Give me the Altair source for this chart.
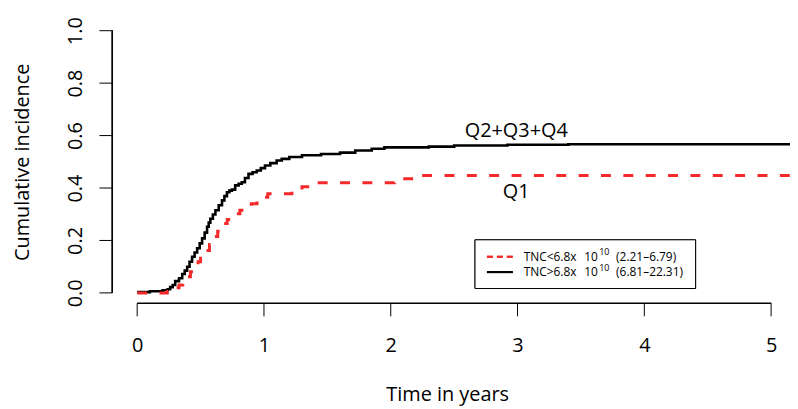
import altair as alt
import pandas as pd

# ---- data ----
# Q2+Q3+Q4 : TNC > 6.8x10^10 (black, solid)
time_hi = [0.0, 0.10, 0.20, 0.24, 0.26, 0.28, 0.30, 0.33, 0.355, 0.375,
           0.394, 0.413, 0.433, 0.453, 0.473, 0.493, 0.512, 0.532, 0.551, 0.564,
           0.577, 0.597, 0.617, 0.643, 0.669, 0.688, 0.708, 0.727, 0.747, 0.773,
           0.80, 0.825, 0.85, 0.878, 0.91, 0.943, 0.975, 1.008, 1.05, 1.10,
           1.14, 1.20, 1.30, 1.45, 1.60, 1.72, 1.85, 1.95, 2.30, 2.50,
           2.92, 3.40, 5.30]
cinc_hi = [0.003, 0.006, 0.010, 0.014, 0.022, 0.030, 0.045, 0.056, 0.072, 0.085,
           0.100, 0.119, 0.138, 0.154, 0.170, 0.189, 0.208, 0.230, 0.252, 0.268,
           0.283, 0.299, 0.315, 0.334, 0.353, 0.369, 0.384, 0.390, 0.394, 0.410,
           0.416, 0.422, 0.438, 0.454, 0.460, 0.467, 0.476, 0.486, 0.495, 0.505,
           0.511, 0.518, 0.525, 0.530, 0.535, 0.543, 0.550, 0.555, 0.558, 0.562,
           0.565, 0.567, 0.567]

# Q1 : TNC < 6.8x10^10 (red, dashed)
time_lo = [0.0, 0.238, 0.27, 0.30, 0.33, 0.36, 0.39, 0.42, 0.44, 0.46,
           0.48, 0.50, 0.52, 0.545, 0.57, 0.59, 0.61, 0.635, 0.66, 0.68,
           0.71, 0.74, 0.77, 0.81, 0.855, 0.90, 0.945, 0.99, 1.03, 1.22,
           1.30, 1.37, 2.03, 2.18, 2.24, 5.30]
cinc_lo = [0.000, 0.005, 0.012, 0.020, 0.030, 0.045, 0.062, 0.081, 0.094, 0.107,
           0.119, 0.132, 0.145, 0.162, 0.185, 0.200, 0.215, 0.235, 0.252, 0.265,
           0.280, 0.292, 0.302, 0.315, 0.328, 0.340, 0.352, 0.365, 0.378, 0.394,
           0.405, 0.420, 0.435, 0.441, 0.448, 0.448]

x_ticks = [0, 1, 2, 3, 4, 5]
y_ticks = [0.0, 0.2, 0.4, 0.6, 0.8, 1.0]

curve_labels = ["Q2+Q3+Q4", "Q1"]
curve_label_t = [2.99, 2.99]
curve_label_v = [0.619, 0.383]

legend_main = ["TNC<6.8x", "TNC>6.8x"]
legend_base = ["10", "10"]
legend_exp = ["10", "10"]
legend_range = ["(2.21\u20136.79)", "(6.81\u201322.31)"]

RED = "#f42a2a"
FONT = "Open Sans"
W, H = 682, 285
TICK = 13
XDOM = [-0.196, 5.149]
YDOM = [-0.04, 1.04]

df_hi = pd.DataFrame({"t": time_hi, "ci": cinc_hi})
df_lo = pd.DataFrame({"t": time_lo, "ci": cinc_lo})
df_lab = pd.DataFrame({"t": curve_label_t, "ci": curve_label_v, "label": curve_labels})
df_xt = pd.DataFrame({"t": x_ticks})
df_yt = pd.DataFrame({"ci": y_ticks})

xscale = alt.Scale(domain=XDOM, nice=False, zero=False)
yscale = alt.Scale(domain=YDOM, nice=False, zero=False)

xaxis = alt.Axis(values=x_ticks, format="d", domain=False, grid=False, ticks=False,
                 labelFontSize=20, labelFont=FONT, labelColor="black",
                 labelPadding=TICK + 19, labelFlush=False,
                 title="Time in years", titleFont=FONT, titleFontSize=20,
                 titleFontWeight="normal", titleColor="black",
                 titleX=337, titleY=98, titleAlign="center",
                 titleBaseline="alphabetic")
yaxis = alt.Axis(values=y_ticks, format=".1f", domain=False, grid=False, ticks=False,
                 labelFontSize=20, labelFont=FONT, labelColor="black",
                 labelAngle=270, labelAlign="center", labelBaseline="alphabetic",
                 labelPadding=TICK + 18, labelFlush=False,
                 title="Cumulative incidence", titleFont=FONT, titleFontSize=20,
                 titleFontWeight="normal", titleColor="black",
                 titleX=-84, titleBaseline="alphabetic")

line_hi = alt.Chart(df_hi).mark_line(
    interpolate="step-after", color="black", strokeWidth=2.6, clip=True
).encode(x=alt.X("t:Q", scale=xscale, axis=xaxis),
         y=alt.Y("ci:Q", scale=yscale, axis=yaxis))

line_lo = alt.Chart(df_lo).mark_line(
    interpolate="step-after", color=RED, strokeWidth=3, strokeDash=[10, 12.5], clip=True
).encode(x=alt.X("t:Q", scale=xscale), y=alt.Y("ci:Q", scale=yscale))

# R-style axis lines spanning only the tick range, with outward ticks
xline = alt.Chart(df_xt).mark_rule(color="black", strokeWidth=1).encode(
    x=alt.datum(x_ticks[0]), x2=alt.datum(x_ticks[-1]), y=alt.value(H))
yline = alt.Chart(df_yt).mark_rule(color="black", strokeWidth=1).encode(
    y=alt.datum(y_ticks[0]), y2=alt.datum(y_ticks[-1]), x=alt.value(0))
xticks_m = alt.Chart(df_xt).mark_rule(color="black", strokeWidth=1).encode(
    x=alt.X("t:Q", scale=xscale), y=alt.value(H), y2=alt.value(H + TICK))
yticks_m = alt.Chart(df_yt).mark_rule(color="black", strokeWidth=1).encode(
    y=alt.Y("ci:Q", scale=yscale), x=alt.value(-TICK), x2=alt.value(0))

labels = alt.Chart(df_lab).mark_text(
    font=FONT, fontSize=20, color="black", align="center", baseline="middle"
).encode(x=alt.X("t:Q", scale=xscale), y=alt.Y("ci:Q", scale=yscale), text="label:N")

# legend box
legend_df = pd.DataFrame({"main": legend_main, "base": legend_base,
                          "exp": legend_exp, "rng": legend_range, "row": [0, 1]})
box = alt.Chart(legend_df).mark_rect(fill="white", stroke="black", strokeWidth=1).encode(
    x=alt.value(365), x2=alt.value(587), y=alt.value(221), y2=alt.value(270))
leg_red = alt.Chart(legend_df).mark_rule(color=RED, strokeWidth=2, strokeDash=[6, 4]).encode(
    x=alt.value(377), x2=alt.value(403), y=alt.value(238))
leg_blk = alt.Chart(legend_df).mark_rule(color="black", strokeWidth=2).encode(
    x=alt.value(377), x2=alt.value(403), y=alt.value(253.5))

def leg_text(col, xpx, dy, size, row):
    return alt.Chart(legend_df).transform_filter(alt.datum.row == row).mark_text(
        font=FONT, fontSize=size, color="black", align="left", baseline="middle"
    ).encode(x=alt.value(xpx), y=alt.value(238 + 15.5 * row + dy), text=f"{col}:N")

leg_texts = []
for r in [0, 1]:
    leg_texts += [leg_text("main", 414, 0, 12, r),
                  leg_text("base", 475, 0, 12, r),
                  leg_text("exp", 490, -4.5, 9, r),
                  leg_text("rng", 507, 0, 12, r)]

chart = alt.layer(
    line_hi, line_lo, xline, yline, xticks_m, yticks_m, labels,
    box, leg_red, leg_blk, *leg_texts
).properties(
    width=W, height=H,
    padding={"left": 105, "top": 11, "right": 0, "bottom": 105},
    autosize=alt.AutoSizeParams(type="none"),
).configure(font=FONT, background="white").configure_view(stroke=None)

chart.save("out.html", embed_options={"renderer": "svg", "actions": False})
